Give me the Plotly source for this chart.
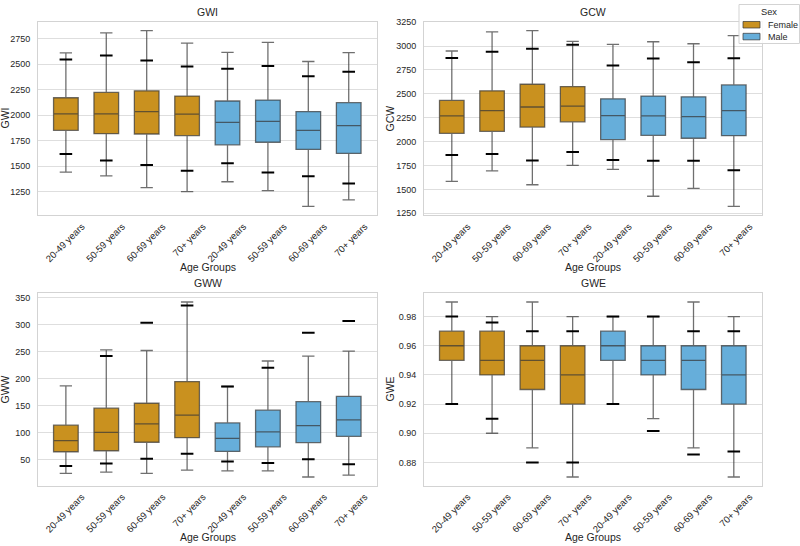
import plotly.graph_objects as go

ages = ["20-49 years", "50-59 years", "60-69 years", "70+ years"]
sexes = ["Female", "Male"]
metrics = ["GWI", "GCW", "GWW", "GWE"]

# order: Female 4 age groups, then Male 4 age groups
gwi_max = [2610, 2806, 2829, 2706, 2616, 2713, 2526, 2613]
gwi_phi = [2545, 2584, 2535, 2477, 2455, 2481, 2381, 2426]
gwi_q3 = [2171, 2223, 2239, 2187, 2139, 2148, 2035, 2123]
gwi_med = [2013, 2013, 2035, 2010, 1929, 1939, 1852, 1897]
gwi_q1 = [1852, 1819, 1816, 1800, 1710, 1735, 1665, 1626]
gwi_plo = [1619, 1555, 1513, 1455, 1529, 1439, 1403, 1332]
gwi_min = [1442, 1406, 1290, 1252, 1348, 1261, 1106, 1171]

gcw_max = [2948, 3148, 3162, 3048, 3017, 3045, 3024, 3110]
gcw_phi = [2876, 2941, 2972, 3014, 2796, 2869, 2831, 2872]
gcw_q3 = [2431, 2531, 2600, 2576, 2448, 2476, 2469, 2593]
gcw_med = [2269, 2324, 2362, 2372, 2272, 2269, 2262, 2324]
gcw_q1 = [2086, 2107, 2152, 2207, 2021, 2066, 2035, 2062]
gcw_plo = [1859, 1869, 1803, 1890, 1807, 1800, 1800, 1700]
gcw_min = [1583, 1693, 1548, 1752, 1710, 1428, 1510, 1321]

gww_max = [186.9, 253.7, 252.5, 342.4, 185.7, 233.0, 242.2, 251.3]
gww_phi = [None, 242.2, 304.1, 335.7, 185.7, 220.3, 285.3, 307.2]
gww_q3 = [114.0, 145.6, 154.7, 194.8, 118.2, 141.9, 157.7, 167.4]
gww_med = [85.4, 100.6, 116.4, 132.8, 89.7, 101.8, 113.4, 123.7]
gww_q1 = [64.8, 66.6, 82.4, 90.9, 65.4, 73.9, 81.8, 93.3]
gww_plo = [38.6, 42.9, 52.0, 61.1, 46.5, 44.1, 50.8, 41.7]
gww_min = [24.7, 27.1, 24.7, 30.7, 29.5, 29.5, 18.0, 21.6]

gwe_max = [0.99, 0.98, 0.99, 0.98, 0.98, 0.98, 0.99, 0.98]
gwe_phi = [0.98, 0.976, 0.97, 0.97, 0.98, 0.98, 0.97, 0.97]
gwe_q3 = [0.97, 0.97, 0.96, 0.96, 0.97, 0.96, 0.96, 0.96]
gwe_med = [0.96, 0.95, 0.95, 0.94, 0.96, 0.95, 0.95, 0.94]
gwe_q1 = [0.95, 0.94, 0.93, 0.92, 0.95, 0.94, 0.93, 0.92]
gwe_plo = [0.92, 0.91, 0.88, 0.88, 0.92, 0.9015, 0.8855, 0.8875]
gwe_min = [0.92, 0.90, 0.89, 0.87, 0.92, 0.91, 0.89, 0.87]

stats = {
    "GWI": (gwi_min, gwi_q1, gwi_med, gwi_q3, gwi_max, gwi_plo, gwi_phi),
    "GCW": (gcw_min, gcw_q1, gcw_med, gcw_q3, gcw_max, gcw_plo, gcw_phi),
    "GWW": (gww_min, gww_q1, gww_med, gww_q3, gww_max, gww_plo, gww_phi),
    "GWE": (gwe_min, gwe_q1, gwe_med, gwe_q3, gwe_max, gwe_plo, gwe_phi),
}
ticks = {"GWI": (1250, 250, None), "GCW": (1250, 250, None),
         "GWW": (50, 50, None), "GWE": (0.88, 0.02, ".2f")}

colors = {"Female": "#C9911F", "Male": "#66AEDA"}
line_col = "rgba(55,55,55,0.72)"
font_fam = "Liberation Sans, Arial, sans-serif"
txt = "#262626"

xdoms = [[38 / 800, 377 / 800], [424 / 800, 762 / 800]]
ydoms = [[1 - 214 / 546, 1 - 18 / 546], [1 - 488 / 546, 1 - 293 / 546]]
ytitle_x = [5, 390]          # px centres of y-axis titles
xtitle_y = [266, 540]        # px centres of x-axis titles


def px(xp, yp):
    return xp / 800, 1 - yp / 546


fig = go.Figure()
layout = {}
annotations = []
shapes = []
positions = list(range(8))
labels = ages + ages

for i, m in enumerate(metrics):
    ax = "" if i == 0 else str(i + 1)
    xa, ya = "x" + ax, "y" + ax
    mn, q1, med, q3, mx, plo, phi = stats[m]
    for s_i, sex in enumerate(sexes):
        sl = slice(4 * s_i, 4 * s_i + 4)
        fig.add_trace(go.Box(
            x=positions[sl], q1=q1[sl], median=med[sl], q3=q3[sl],
            lowerfence=mn[sl], upperfence=mx[sl],
            fillcolor=colors[sex], line=dict(color=line_col, width=1.3),
            width=0.61, whiskerwidth=0.5, boxpoints=False,
            name=sex, legendgroup=sex, showlegend=False,
            xaxis=xa, yaxis=ya, hoverinfo="skip"))
    mx_x, mx_y = [], []
    for p, v in zip(positions + positions, plo + phi):
        if v is not None:
            mx_x.append(p)
            mx_y.append(v)
    fig.add_trace(go.Scatter(
        x=mx_x, y=mx_y, mode="markers", showlegend=False, hoverinfo="skip",
        marker=dict(symbol="line-ew", size=9, color="black",
                    line=dict(width=2, color="black")),
        xaxis=xa, yaxis=ya))

    vals = [v for arr in (mn, mx, plo, phi) for v in arr if v is not None]
    lo, hi = min(vals), max(vals)
    pad = 0.05 * (hi - lo)
    t0, dt, fmt = ticks[m]
    col, row = i % 2, i // 2
    layout["xaxis" + ax] = dict(
        domain=xdoms[col], anchor=ya, range=[-0.69, 7.7],
        tickmode="array", tickvals=positions, ticktext=labels,
        tickangle=-45, ticklabelshift=16, ticklabelstandoff=1,
        showgrid=False, zeroline=False, showline=True, mirror=True,
        linecolor="#d3d3d3", linewidth=1, ticks="",
        tickfont=dict(size=9.5, color=txt))
    layout["yaxis" + ax] = dict(
        domain=ydoms[row], anchor=xa, range=[lo - pad, hi + pad],
        tick0=t0, dtick=dt, tickformat=fmt,
        showgrid=True, gridcolor="#dedede", gridwidth=1, zeroline=False,
        showline=True, mirror=True, linecolor="#d3d3d3", linewidth=1,
        ticks="", ticklabelstandoff=5,
        tickfont=dict(size=9, color=txt))
    # subplot title
    annotations.append(dict(
        text=m, x=sum(xdoms[col]) / 2, y=ydoms[row][1], xref="paper", yref="paper",
        xanchor="center", yanchor="bottom", yshift=2, showarrow=False,
        font=dict(size=10.5, color=txt)))
    # y-axis title
    annotations.append(dict(
        text=m, x=ytitle_x[col] / 800, y=sum(ydoms[row]) / 2, xref="paper", yref="paper",
        xanchor="center", yanchor="middle", textangle=-90, showarrow=False,
        font=dict(size=10.5, color=txt)))
    # x-axis title
    annotations.append(dict(
        text="Age Groups", x=sum(xdoms[col]) / 2, y=1 - xtitle_y[row] / 546,
        xref="paper", yref="paper", xanchor="center", yanchor="middle",
        showarrow=False, font=dict(size=10.5, color=txt)))

# legend box (drawn as layout shapes/annotations)
lx0, ly0 = px(739, 40)
lx1, ly1 = px(799.5, 0.5)
shapes.append(dict(type="rect", xref="paper", yref="paper",
                   x0=lx0, x1=lx1, y0=ly0, y1=ly1,
                   line=dict(color="#d3d3d3", width=1), fillcolor="rgba(255,255,255,0.85)",
                   layer="above"))
tx, ty = px(769, 8)
annotations.append(dict(text="Sex", x=tx, y=ty, xref="paper", yref="paper",
                        xanchor="center", yanchor="middle", showarrow=False,
                        font=dict(size=9.3, color=txt)))
for k, sex in enumerate(sexes):
    yc = 21 + 12 * k
    sx0, sy0 = px(743, yc + 3.3)
    sx1, sy1 = px(760, yc - 3.3)
    shapes.append(dict(type="rect", xref="paper", yref="paper",
                       x0=sx0, x1=sx1, y0=sy0, y1=sy1,
                       line=dict(color=line_col, width=1), fillcolor=colors[sex], layer="above"))
    ax_, ay_ = px(766, yc)
    annotations.append(dict(text=sex, x=ax_, y=ay_, xref="paper", yref="paper",
                            xanchor="left", yanchor="middle", showarrow=False,
                            font=dict(size=9, color=txt)))

fig.update_layout(
    width=800, height=546, margin=dict(l=0, r=0, t=0, b=0),
    paper_bgcolor="white", plot_bgcolor="white",
    boxmode="overlay", annotations=annotations, shapes=shapes,
    font=dict(family=font_fam, color=txt, size=10),
    showlegend=False,
    **layout)

fig.write_html("out.html")
